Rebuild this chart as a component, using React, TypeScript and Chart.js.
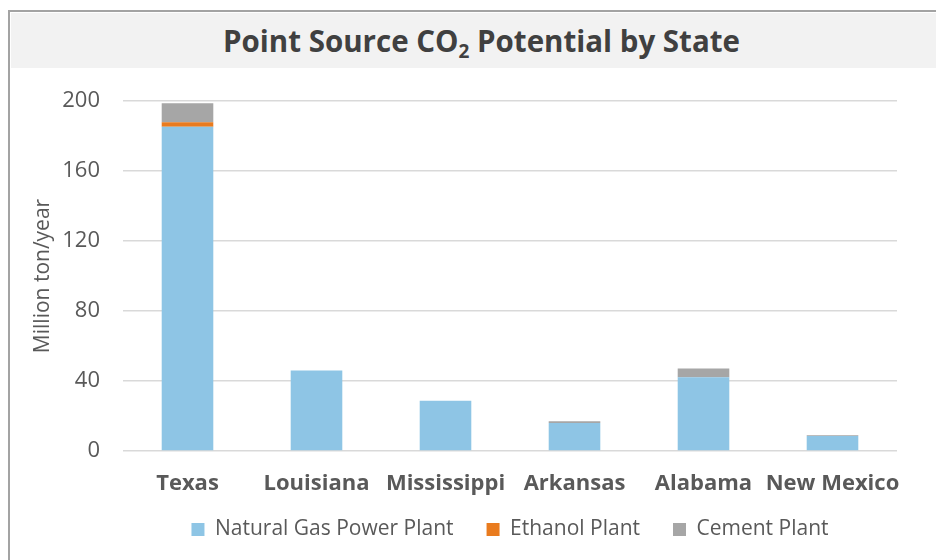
import React, { useEffect, useRef } from "react";
import { Chart, registerables } from "chart.js";

Chart.register(...registerables);

const states = ["Texas", "Louisiana", "Mississippi", "Arkansas", "Alabama", "New Mexico"];
const naturalGas = [185.3, 46.0, 28.7, 16.0, 42.1, 8.6];
const ethanol = [2.5, 0, 0, 0, 0, 0];
const cement = [10.9, 0, 0, 1.0, 5.1, 0.4];
const yTicks = [0, 40, 80, 120, 160, 200];

const FONT = "'Open Sans', 'Noto Sans', sans-serif";

export default function App() {
  const ref = useRef<HTMLCanvasElement>(null);
  useEffect(() => {
    if (!ref.current) return;
    const chart = new Chart(ref.current, {
      type: "bar",
      data: {
        labels: states,
        datasets: [
          { label: "Natural Gas Power Plant", data: naturalGas, backgroundColor: "#8EC5E5", barPercentage: 0.4, categoryPercentage: 1 },
          { label: "Ethanol Plant", data: ethanol, backgroundColor: "#E97B1E", barPercentage: 0.4, categoryPercentage: 1 },
          { label: "Cement Plant", data: cement, backgroundColor: "#A6A6A6", barPercentage: 0.4, categoryPercentage: 1 },
        ],
      },
      options: {
        animation: false,
        responsive: false,
        maintainAspectRatio: false,
        layout: { padding: { top: 33, right: 39, bottom: 10, left: 21 } },
        plugins: {
          title: { display: false },
          tooltip: { enabled: false },
          legend: {
            position: "bottom",
            fullSize: false,
            labels: {
              boxWidth: 13,
              boxHeight: 13,
              padding: 33,
              color: "#595959",
              font: { family: FONT, size: 21 },
            },
          },
        },
        scales: {
          x: {
            stacked: true,
            grid: { display: false, drawTicks: false },
            border: { display: false },
            ticks: {
              mirror: true,
              maxRotation: 0,
              minRotation: 0,
              autoSkip: false,
              color: "#595959",
              font: { family: FONT, size: 22, weight: "bold" },
              padding: -46,
            },
            afterFit: (s: any) => { s.height = 35; },
          },
          y: {
            stacked: true,
            min: 0,
            max: 200,
            afterBuildTicks: (s: any) => { s.ticks = yTicks.map((v) => ({ value: v })); },
            grid: { color: "#D9D9D9", lineWidth: 1.5, drawTicks: false },
            border: { display: false },
            ticks: { color: "#595959", font: { family: FONT, size: 22 }, padding: 23 },
            title: { display: true, text: "Million ton/year", color: "#595959", font: { family: FONT, size: 21 }, padding: { top: 2, bottom: 0 } },
            afterFit: (s: any) => { s.width = 95; s.paddingTop = 0; s.paddingBottom = 0; },
          },
        },
      },
    });
    return () => chart.destroy();
  }, []);

  return (
    <div style={{ position: "fixed", left: 0, top: 0, width: 936, height: 560, background: "#fff", overflow: "hidden" }}>
      <div style={{ position: "absolute", left: 8, top: 10, width: 1000, height: 1000, borderLeft: "2.5px solid #A3A3A3", borderTop: "2.5px solid #A3A3A3" }} />
      <div
        style={{
          position: "absolute", left: 10.5, top: 12.5, width: 942, height: 55.5, background: "#F2F2F2",
          display: "flex", alignItems: "center", justifyContent: "center",
          fontFamily: FONT, fontWeight: 700, fontSize: 29.5, color: "#404040",
        }}
      >
        <span>Point Source CO<sub style={{ fontSize: 19, verticalAlign: "-6px", lineHeight: 0 }}>2</sub> Potential by State</span>
      </div>
      <canvas ref={ref} width={929} height={492} style={{ position: "absolute", left: 7, top: 68, width: 929, height: 492 }} />
    </div>
  );
}
